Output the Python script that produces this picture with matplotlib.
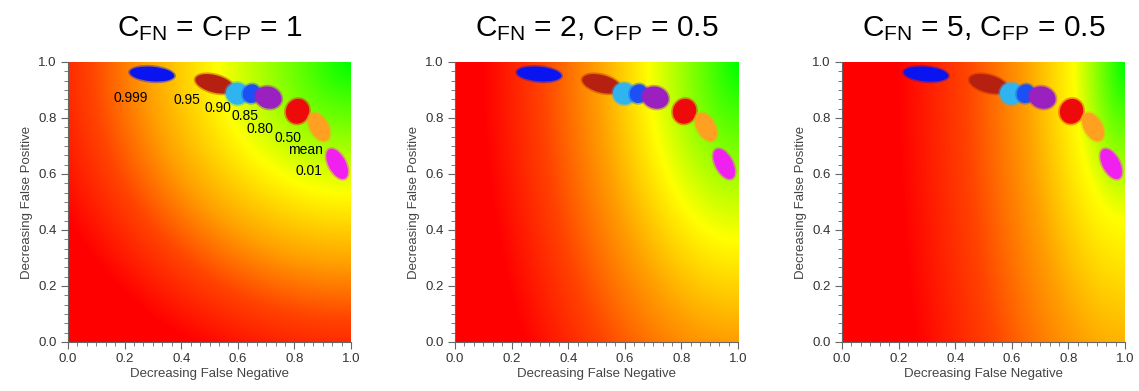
import numpy as np
import matplotlib
matplotlib.use("Agg")
import matplotlib.pyplot as plt
from matplotlib.colors import LinearSegmentedColormap
from matplotlib.patches import Ellipse
from matplotlib.ticker import MultipleLocator

plt.rcParams['font.family'] = ['Liberation Sans', 'DejaVu Sans']
plt.rcParams['mathtext.fontset'] = 'custom'
plt.rcParams['mathtext.rm'] = 'Liberation Sans'
plt.rcParams['mathtext.it'] = 'Liberation Sans'

# ---- data ----
c_fn = [1, 2, 5]
c_fp = [1, 0.5, 0.5]
titles = [r'C$_{\mathrm{FN}}$ = C$_{\mathrm{FP}}$ = 1',
          r'C$_{\mathrm{FN}}$ = 2, C$_{\mathrm{FP}}$ = 0.5',
          r'C$_{\mathrm{FN}}$ = 5, C$_{\mathrm{FP}}$ = 0.5']

cluster_names = ['0.999', '0.95', '0.90', '0.85', '0.80', '0.50', 'mean', '0.01']
cluster_x = [0.297, 0.518, 0.598, 0.649, 0.708, 0.811, 0.887, 0.951]
cluster_y = [0.957, 0.922, 0.887, 0.887, 0.873, 0.824, 0.768, 0.636]
cluster_w = [0.158, 0.140, 0.080, 0.062, 0.095, 0.082, 0.110, 0.118]
cluster_h = [0.052, 0.062, 0.078, 0.068, 0.078, 0.090, 0.064, 0.060]
cluster_angle = [-5, -15, -30, -20, -18, -20, -61, -62]
cluster_colors = ['#0a14f0', '#b52010', '#30b4f0', '#1a50f5', '#9a20c0',
                  '#ee0a0a', '#ffa020', '#f020f0']

label_x = [0.221, 0.419, 0.531, 0.626, 0.677, 0.777, 0.840, 0.850]
label_y = [0.872, 0.866, 0.836, 0.806, 0.762, 0.728, 0.684, 0.612]

xticks = [0.0, 0.2, 0.4, 0.6, 0.8, 1.0]
yticks = [0.0, 0.2, 0.4, 0.6, 0.8, 1.0]

# ---- background colour stops on sqrt(cost), per panel ----
stop_colors = ['#00ff00', '#ffff00', '#ffa000', '#ff4400', '#ff0000']
stop_levels = [[0, 0.47, 0.72, 0.92, 1.15],
               [0, 0.45, 0.70, 0.98, 1.28],
               [0, 0.40, 0.78, 1.25, 1.80]]

W, H = 1139, 391
fig = plt.figure(figsize=(W / 100, H / 100), dpi=100)
lefts = [68, 455, 842]
g = np.linspace(0, 1, 400)
X, Y = np.meshgrid(g, g)

for i in range(3):
    ax = fig.add_axes([lefts[i] / W, 1 - 342 / H, 283 / W, 280 / H])
    lv = stop_levels[i]
    smax = lv[-1]
    cmap = LinearSegmentedColormap.from_list(
        f'cost{i}', [(l / smax, c) for l, c in zip(lv, stop_colors)])
    cost = c_fn[i] * (1 - X) ** 2 + c_fp[i] * (1 - Y) ** 2
    s = np.sqrt(cost)
    ax.imshow(s, extent=[0, 1, 0, 1], origin='lower', cmap=cmap,
              vmin=0, vmax=smax, aspect='auto', interpolation='bilinear')
    for k in range(len(cluster_names)):
        e1 = Ellipse((cluster_x[k], cluster_y[k]), cluster_w[k] + 0.012,
                     cluster_h[k] + 0.012, angle=cluster_angle[k],
                     facecolor=cluster_colors[k], edgecolor='none', alpha=0.4, zorder=3)
        e2 = Ellipse((cluster_x[k], cluster_y[k]), cluster_w[k], cluster_h[k],
                     angle=cluster_angle[k], facecolor=cluster_colors[k],
                     edgecolor='none', zorder=3)
        ax.add_patch(e1)
        ax.add_patch(e2)
    if i == 0:
        for k in range(len(cluster_names)):
            ax.text(label_x[k], label_y[k], cluster_names[k], fontsize=10,
                    ha='center', va='center', color='black', zorder=4)
    ax.set_xlim(0, 1)
    ax.set_ylim(0, 1)
    ax.set_xticks(xticks)
    ax.set_yticks(yticks)
    ax.set_xticklabels([f'{t:.1f}' for t in xticks])
    ax.set_yticklabels([f'{t:.1f}' for t in yticks])
    ax.xaxis.set_minor_locator(MultipleLocator(0.2 / 6))
    ax.yaxis.set_minor_locator(MultipleLocator(0.2 / 6))
    for sp in ['top', 'right']:
        ax.spines[sp].set_visible(False)
    for sp in ['left', 'bottom']:
        ax.spines[sp].set_color('#666666')
        ax.spines[sp].set_linewidth(0.8)
    ax.tick_params(which='major', length=5, width=0.8, color='#666666',
                   labelsize=9.5, labelcolor='#333333', pad=3)
    ax.tick_params(which='minor', length=3, width=0.6, color='#666666')
    ax.set_xlabel('Decreasing False Negative', fontsize=9.5, color='#444444', labelpad=2)
    ax.set_ylabel('Decreasing False Positive', fontsize=9.5, color='#444444', labelpad=4)
    cx = (lefts[i] + 141.5) / W
    fig.text(cx, 1 - 36 / H, titles[i], fontsize=21.5, ha='center', va='baseline',
             color='black')

fig.savefig('out.png', dpi=100)
